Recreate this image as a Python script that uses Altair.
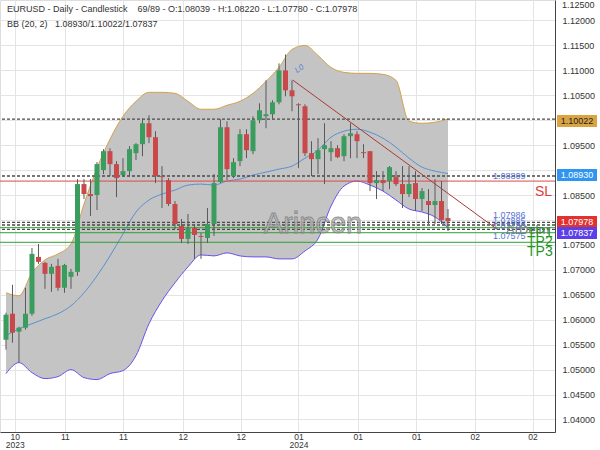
import json
import altair as alt
import pandas as pd

# ---------------- data ----------------
opens = [1.0560, 1.0612, 1.0576, 1.0584, 1.0612, 1.0726, 1.0714, 1.0692, 1.0708, 1.0664,
         1.0686, 1.0696, 1.0872, 1.0852, 1.0850, 1.0900, 1.0938, 1.0912, 1.0890, 1.0898,
         1.0934, 1.0952, 1.0994, 1.0966, 1.0888, 1.0880, 1.0832, 1.0788, 1.0762, 1.0784,
         1.0768, 1.0764, 1.0792, 1.0876, 1.0986, 1.0888, 1.0918, 1.0972, 1.0938, 1.1000,
         1.1008, 1.1012, 1.1036, 1.1100, 1.1060, 1.1032, 1.1028, 1.0934, 1.0922, 1.0942,
         1.0936, 1.0944, 1.0928, 1.0968, 1.0972, 1.0936, 1.0938, 1.0874, 1.0880, 1.0878,
         1.0886, 1.0872, 1.0852, 1.0874, 1.0842, 1.0838, 1.0830, 1.0838, 1.08039]
highs = [1.0614, 1.0670, 1.0586, 1.0664, 1.0744, 1.0752, 1.0716, 1.0712, 1.0722, 1.0712,
         1.0702, 1.0882, 1.0882, 1.0882, 1.0916, 1.0942, 1.0944, 1.0918, 1.0924, 1.0948,
         1.0954, 1.1004, 1.1010, 1.0978, 1.0908, 1.0884, 1.0838, 1.0802, 1.0812, 1.0792,
         1.0774, 1.0824, 1.0892, 1.1002, 1.0998, 1.0924, 1.0982, 1.0982, 1.1008, 1.1034,
         1.1080, 1.1040, 1.1114, 1.1132, 1.1080, 1.1034, 1.1032, 1.0958, 1.0964, 1.0994,
         1.0958, 1.0950, 1.0972, 1.0994, 1.0978, 1.0952, 1.0938, 1.0898, 1.0898, 1.0908,
         1.0898, 1.0908, 1.0908, 1.0898, 1.0864, 1.0862, 1.0882, 1.0878, 1.08220]
lows = [1.0540, 1.0554, 1.0514, 1.0580, 1.0608, 1.0712, 1.0662, 1.0656, 1.0658, 1.0654,
        1.0662, 1.0688, 1.0842, 1.0808, 1.0820, 1.0892, 1.0888, 1.0846, 1.0888, 1.0888,
        1.0920, 1.0928, 1.0954, 1.0874, 1.0824, 1.0828, 1.0782, 1.0754, 1.0752, 1.0722,
        1.0722, 1.0754, 1.0768, 1.0874, 1.0880, 1.0884, 1.0908, 1.0924, 1.0932, 1.0994,
        1.0984, 1.1002, 1.1032, 1.1048, 1.1018, 1.0904, 1.0928, 1.0888, 1.0892, 1.0872,
        1.0918, 1.0924, 1.0918, 1.0924, 1.0924, 1.0924, 1.0858, 1.0842, 1.0858, 1.0862,
        1.0868, 1.0824, 1.0846, 1.0818, 1.0818, 1.0792, 1.0792, 1.0792, 1.07780]
closes = [1.0610, 1.0574, 1.0584, 1.0612, 1.0732, 1.0716, 1.0692, 1.0706, 1.0664, 1.0710,
          1.0696, 1.0872, 1.0852, 1.0848, 1.0912, 1.0938, 1.0912, 1.0884, 1.0898, 1.0942,
          1.0952, 1.0994, 1.0966, 1.0888, 1.0886, 1.0832, 1.0792, 1.0762, 1.0784, 1.0770,
          1.0766, 1.0792, 1.0874, 1.0986, 1.0902, 1.0916, 1.0972, 1.0940, 1.1000, 1.1020,
          1.1012, 1.1036, 1.1100, 1.1060, 1.1048, 1.1030, 1.0934, 1.0922, 1.0940, 1.0950,
          1.0944, 1.0926, 1.0968, 1.0974, 1.0958, 1.0934, 1.0874, 1.0880, 1.0874, 1.0906,
          1.0872, 1.0852, 1.0872, 1.0842, 1.0858, 1.0830, 1.0838, 1.0800, 1.07978]

# Bollinger Bands (20, 2), read every second bar
bb_idx = list(range(0, 69, 2))
bb_upper = [1.0654, 1.0648, 1.0694, 1.0720, 1.0732, 1.0752, 1.0832, 1.0904, 1.0962, 1.1008,
            1.1038, 1.1056, 1.1056, 1.1054, 1.1038, 1.1022, 1.1022, 1.1030, 1.1038, 1.1054,
            1.1078, 1.1106, 1.1142, 1.1150, 1.1130, 1.1106, 1.1096, 1.1094, 1.1094, 1.1092,
            1.1080, 1.0998, 1.0994, 1.0996, 1.10022]
bb_mid = [1.0568, 1.0582, 1.0592, 1.0602, 1.0612, 1.0628, 1.0654, 1.0688, 1.0728, 1.0772,
          1.0816, 1.0840, 1.0852, 1.0860, 1.0870, 1.0872, 1.0870, 1.0878, 1.0882, 1.0890,
          1.0896, 1.0902, 1.0908, 1.0924, 1.0940, 1.0966, 1.0978, 1.0982, 1.0976, 1.0964,
          1.0946, 1.0924, 1.0906, 1.0898, 1.08930]
bb_lower = [1.0492, 1.0514, 1.0494, 1.0482, 1.0486, 1.0500, 1.0484, 1.0480, 1.0492, 1.0498,
            1.0528, 1.0592, 1.0638, 1.0674, 1.0706, 1.0730, 1.0728, 1.0734, 1.0728, 1.0726,
            1.0726, 1.0722, 1.0722, 1.0738, 1.0762, 1.0828, 1.0868, 1.0878, 1.0870, 1.0858,
            1.0840, 1.0822, 1.0816, 1.0806, 1.07837]

# x-axis ticks (bar index) and their labels
tick_pos = [1.36, 9.06, 18.0, 27.2, 36.1, 45.0, 54.1, 63.1, 72.1, 81.0]
tick_month = ["10", "11", "11", "12", "12", "01", "01", "01", "02", "02"]
tick_year = ["2023", "", "", "", "", "2024", "", "", "", ""]
y_ticks = [1.040, 1.045, 1.050, 1.055, 1.060, 1.065, 1.070, 1.075, 1.080, 1.085,
           1.090, 1.095, 1.100, 1.105, 1.110, 1.115, 1.120]
y_hidden = [1.080, 1.090, 1.100]   # labels covered by the value boxes

# horizontal levels
dash_levels = [1.10022, 1.08882, 1.07954, 1.07900, 1.07810]
tp_levels = [1.07846, 1.07745, 1.07553]
sl_level = [1.08780]

# trend line L0 (bar index, price)
trend_x = [44.1]
trend_x2 = [75.7]
trend_y = [1.10807]
trend_y2 = [1.07800]

# blue level texts
lvl_text = ["1.08809", "1.07986", "1.07885", "1.07780", "1.07575"]
lvl_pos = [1.08882, 1.08100, 1.07980, 1.07880, 1.07679]

tp_text = ["TP1", "TP2", "TP3"]
tp_pos = [1.07739, 1.07559, 1.07358]

# right axis highlight boxes
box_text = ["1.10022", "1.08930", "1.07978", "1.07837"]
box_pos = [1.09985, 1.08902, 1.07960, 1.07739]
box_fill = ["#d9a441", "#2f95f0", "#e3312f", "#5b3fe8"]
box_tc = ["#222222", "#ffffff", "#ffffff", "#ffffff"]

NB = "\u00a0"
title1 = "EURUSD - Daily - Candlestick" + NB * 4 + "69/89 - O:1.08039 - H:1.08220 - L:1.07780 - C:1.07978"
title2 = "BB (20, 2)" + NB * 3 + "1.08930/1.10022/1.07837"

# ---------------- chart ----------------
FONT = "Liberation Sans"
X_DOM = [-0.151, 83.69]
Y_DOM = [1.03749, 1.12411]
xs = alt.Scale(domain=X_DOM, nice=False, zero=False)
ys = alt.Scale(domain=Y_DOM, nice=False, zero=False)

tick_lines = [[m, y] if y else m for m, y in zip(tick_month, tick_year)]
label_expr = f"{json.dumps(tick_lines)}[indexof({json.dumps(tick_pos)}, datum.value)]"
y_label_expr = f"indexof({json.dumps(y_hidden)}, datum.value) >= 0 ? '' : format(datum.value, '.5f')"

xaxis = alt.Axis(values=tick_pos, labelExpr=label_expr, title=None, grid=True,
                 gridColor="#e4e4e4", domainColor="#444", ticks=False,
                 labelFontSize=8.5, labelColor="#333", labelPadding=0, labelFont=FONT,
                 labelOverlap=False, labelLineHeight=8.5, labelFlush=False,
                 labelBaseline="top")
yaxis = alt.Axis(values=y_ticks, labelExpr=y_label_expr, orient="right", title=None, grid=True,
                 gridColor="#e4e4e4", domainColor="#444", ticks=False,
                 labelFontSize=9, labelColor="#333", labelPadding=7, labelFont=FONT,
                 labelOverlap=False)

bars = pd.DataFrame({"i": list(range(len(opens))), "o": opens, "h": highs,
                     "l": lows, "c": closes})
bars["col"] = ["#3a9d5d" if c >= o else "#c9484a" for o, c in zip(opens, closes)]

bb = pd.DataFrame({"i": bb_idx, "u": bb_upper, "m": bb_mid, "lo": bb_lower})

band = alt.Chart(bb).mark_area(color="#c4c4c4", interpolate="monotone").encode(
    x=alt.X("i:Q", scale=xs, axis=xaxis),
    y=alt.Y("lo:Q", scale=ys, axis=yaxis),
    y2="u:Q",
)
up_line = alt.Chart(bb).mark_line(color="#d3a24a", strokeWidth=1, interpolate="monotone").encode(
    x=alt.X("i:Q", scale=xs, axis=xaxis), y=alt.Y("u:Q", scale=ys, axis=yaxis))
mid_line = alt.Chart(bb).mark_line(color="#5a90d0", strokeWidth=1, interpolate="monotone").encode(
    x=alt.X("i:Q", scale=xs, axis=xaxis), y=alt.Y("m:Q", scale=ys, axis=yaxis))
lo_line = alt.Chart(bb).mark_line(color="#6a50ee", strokeWidth=1, interpolate="monotone").encode(
    x=alt.X("i:Q", scale=xs, axis=xaxis), y=alt.Y("lo:Q", scale=ys, axis=yaxis))

dash_df = pd.DataFrame({"v": dash_levels})
dashes = alt.Chart(dash_df).mark_rule(color="#4a4a4a", strokeWidth=1.3, strokeDash=[3, 2]).encode(
    y=alt.Y("v:Q", scale=ys, axis=yaxis))
tp_df = pd.DataFrame({"v": tp_levels})
tps = alt.Chart(tp_df).mark_rule(color="#2fa02f", strokeWidth=1).encode(
    y=alt.Y("v:Q", scale=ys, axis=yaxis))
sl_df = pd.DataFrame({"v": sl_level})
sl = alt.Chart(sl_df).mark_rule(color="#e04848", strokeWidth=1).encode(
    y=alt.Y("v:Q", scale=ys, axis=yaxis))

wicks = alt.Chart(bars).mark_rule(color="#5a5a5a", strokeWidth=1).encode(
    x=alt.X("i:Q", scale=xs, axis=xaxis), y=alt.Y("l:Q", scale=ys, axis=yaxis), y2="h:Q")
bodies = alt.Chart(bars).mark_bar(size=5).encode(
    x=alt.X("i:Q", scale=xs, axis=xaxis), y=alt.Y("o:Q", scale=ys, axis=yaxis), y2="c:Q",
    color=alt.Color("col:N", scale=None))

trend_df = pd.DataFrame({"x": trend_x, "x2": trend_x2, "y": trend_y, "y2": trend_y2})
trend = alt.Chart(trend_df).mark_rule(color="#a83a3a", strokeWidth=1).encode(
    x=alt.X("x:Q", scale=xs, axis=xaxis), x2="x2:Q",
    y=alt.Y("y:Q", scale=ys, axis=yaxis), y2="y2:Q")
l0 = alt.Chart(trend_df).mark_text(text="L0", color="#5a7fd0", fontSize=8, fontStyle="italic",
                                   angle=325, dx=12, dy=-5, font=FONT).encode(
    x=alt.X("x:Q", scale=xs, axis=xaxis), y=alt.Y("y:Q", scale=ys, axis=yaxis))

wm = alt.Chart(pd.DataFrame({"t": ["Arincen"]})).mark_text(
    fontSize=29, color="#b4b4b4", stroke="#7c7c7c", strokeWidth=0.8, opacity=0.8,
    font=FONT, align="center", baseline="middle").encode(
    text="t:N", x=alt.value(313), y=alt.value(224))

lvl_df = pd.DataFrame({"t": lvl_text, "v": lvl_pos})
lvl = alt.Chart(lvl_df).mark_text(fontSize=9, color="#5873d6", font=FONT, align="left",
                                  baseline="middle").encode(
    text="t:N", x=alt.value(493), y=alt.Y("v:Q", scale=ys, axis=yaxis))

ard = alt.Chart(pd.DataFrame({"t": ["ArDelm"], "v": [1.07800]})).mark_text(
    fontSize=13, color="#7a7a8a", font=FONT, align="left", baseline="middle").encode(
    text="t:N", x=alt.value(506), y=alt.Y("v:Q", scale=ys, axis=yaxis))

tp_txt = alt.Chart(pd.DataFrame({"t": tp_text, "v": tp_pos})).mark_text(
    fontSize=14, color="#1f951f", font=FONT, align="left", baseline="middle").encode(
    text="t:N", x=alt.value(527), y=alt.Y("v:Q", scale=ys, axis=yaxis))

sl_txt = alt.Chart(pd.DataFrame({"t": ["SL"], "v": [1.08562]})).mark_text(
    fontSize=14, color="#e03c3c", font=FONT, align="left", baseline="middle").encode(
    text="t:N", x=alt.value(535), y=alt.Y("v:Q", scale=ys, axis=yaxis))

box_df = pd.DataFrame({"t": box_text, "v": box_pos, "f": box_fill, "tc": box_tc})
boxes = alt.Chart(box_df).transform_calculate(
    top="datum.v + 0.0012", bot="datum.v - 0.0012").mark_rect().encode(
    x=alt.value(557), x2=alt.value(597),
    y=alt.Y("top:Q", scale=ys, axis=yaxis), y2="bot:Q",
    color=alt.Color("f:N", scale=None))
box_txt = alt.Chart(box_df).mark_text(fontSize=9, font=FONT, align="center",
                                      baseline="middle").encode(
    text="t:N", x=alt.value(577), y=alt.Y("v:Q", scale=ys, axis=yaxis),
    color=alt.Color("tc:N", scale=None))

top_lab = alt.Chart(pd.DataFrame({"t": ["1.12500"]})).mark_text(
    fontSize=9, font=FONT, color="#333", align="left", baseline="middle").encode(
    text="t:N", x=alt.value(562), y=alt.value(5))

t1 = alt.Chart(pd.DataFrame({"t": [title1]})).mark_text(
    fontSize=9, font=FONT, color="#333", align="left", baseline="middle").encode(
    text="t:N", x=alt.value(7), y=alt.value(9))
t2 = alt.Chart(pd.DataFrame({"t": [title2]})).mark_text(
    fontSize=9, font=FONT, color="#333", align="left", baseline="middle").encode(
    text="t:N", x=alt.value(7), y=alt.value(24))

chart = alt.layer(
    band, up_line, mid_line, lo_line, dashes, sl, tps, wicks, bodies, trend, l0,
    wm, lvl, ard, tp_txt, sl_txt, boxes, box_txt, top_lab, t1, t2
).properties(
    width=555, height=432,
    autosize=alt.AutoSizeParams(type="none"),
    padding={"left": 0, "top": 0, "right": 45, "bottom": 18},
).configure_view(strokeWidth=0).configure(background="white")

chart.save("out.html", embed_options={"renderer": "svg", "actions": False})
